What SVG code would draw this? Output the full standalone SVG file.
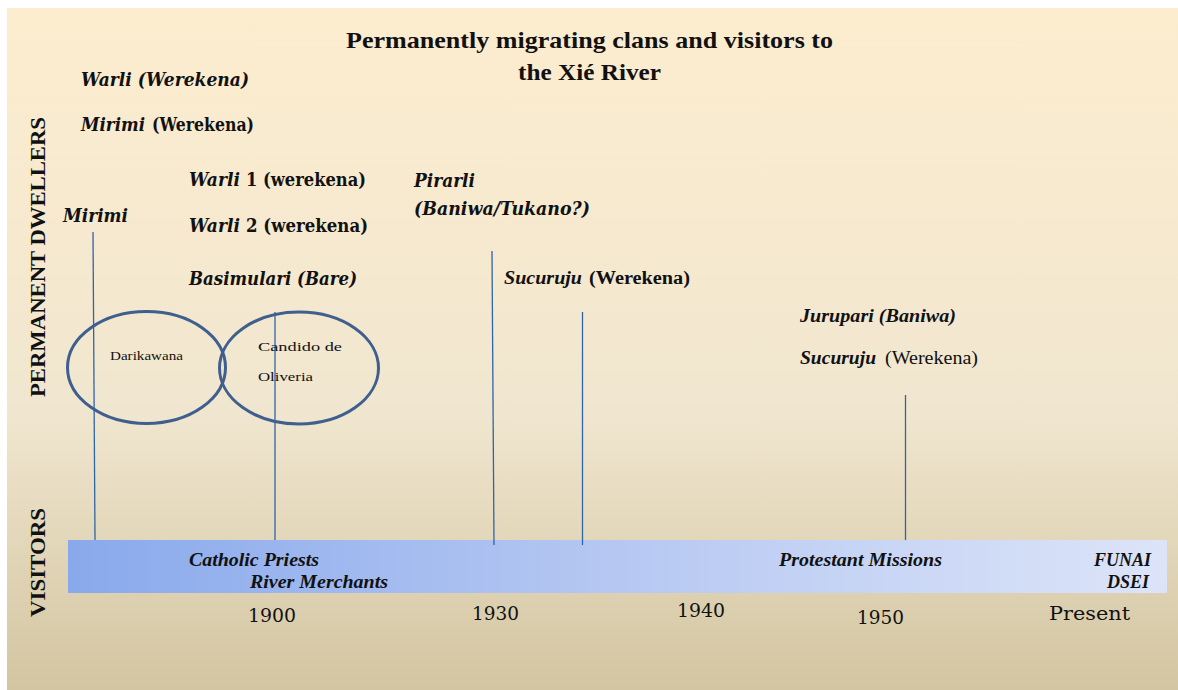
<svg xmlns="http://www.w3.org/2000/svg" width="1178" height="690" viewBox="0 0 1178 690">
<defs>
<linearGradient id="bg" x1="0" y1="0" x2="0" y2="1">
<stop offset="0" stop-color="#FDEDCF"/>
<stop offset="0.6" stop-color="#F0E6CF"/>
<stop offset="1" stop-color="#D3C5A1"/>
</linearGradient>
<linearGradient id="bar" x1="0" y1="0" x2="1" y2="0">
<stop offset="0" stop-color="#89A9EC"/>
<stop offset="0.5" stop-color="#B6C8F2"/>
<stop offset="1" stop-color="#DCE4F8"/>
</linearGradient>
<clipPath id="barclip"><rect x="68" y="540" width="1099" height="53"/></clipPath>
<style>
.c{font-family:"DejaVu Serif","Liberation Serif",serif;font-weight:bold;font-size:18px;fill:#111}
.h{font-family:"Liberation Serif",serif;font-weight:bold;font-size:23px;fill:#111}
.t{font-family:"Liberation Serif",serif;font-weight:bold;font-size:18px;fill:#111}
.bi{font-style:italic;font-weight:bold}
.b{font-style:normal;font-weight:bold}
.r{font-style:normal;font-weight:normal}
.yr{font-family:"DejaVu Serif","Liberation Serif",serif;font-size:18px;fill:#111}
.sm{font-family:"Liberation Serif",serif;font-size:13px;fill:#111}
.ax{font-family:"Liberation Serif",serif;font-weight:bold;font-size:20px;fill:#111}
.ln{stroke:#2F65A6;stroke-width:1.3;fill:none}
.el{stroke:#3F5F8F;stroke-width:3;fill:none}
</style>
</defs>
<rect x="0" y="0" width="1178" height="690" fill="#FFFFFF"/>
<rect x="7" y="8" width="1171" height="682" fill="url(#bg)"/>

<g id="title">
<text class="h" x="589.5" y="48" text-anchor="middle" textLength="487" lengthAdjust="spacingAndGlyphs">Permanently migrating clans and visitors to</text>
<text class="h" x="589.5" y="80" text-anchor="middle" textLength="143" lengthAdjust="spacingAndGlyphs">the Xié River</text>
</g>

<g id="axis-labels">
<text class="ax" transform="translate(45,397) rotate(-90)" textLength="280" lengthAdjust="spacingAndGlyphs">PERMANENT DWELLERS</text>
<text class="ax" transform="translate(45,617) rotate(-90)" textLength="109" lengthAdjust="spacingAndGlyphs">VISITORS</text>
</g>

<g id="timeline-bar">
<rect x="68" y="540" width="1099" height="53" fill="url(#bar)"/>
<g clip-path="url(#barclip)">
<text class="t bi" x="189" y="566" textLength="130" lengthAdjust="spacingAndGlyphs">Catholic Priests</text>
<text class="t bi" x="250" y="588" textLength="138" lengthAdjust="spacingAndGlyphs">River Merchants</text>
<text class="t bi" x="779" y="566" textLength="163" lengthAdjust="spacingAndGlyphs">Protestant Missions</text>
<text class="t bi" x="1151" y="566" text-anchor="end">FUNAI</text>
<text class="t bi" x="1149" y="588" text-anchor="end">DSEI</text>
</g>
</g>

<g id="connectors">
<line class="ln" x1="93" y1="232" x2="95" y2="540"/>
<line class="ln" x1="275" y1="312" x2="275" y2="540"/>
<line class="ln" x1="492" y1="251" x2="494" y2="545"/>
<line class="ln" x1="582.5" y1="312" x2="582.5" y2="545"/>
<line class="ln" x1="905.5" y1="395" x2="905.5" y2="540"/>
</g>

<g id="clans">
<g id="warli-werekena"><text class="c bi" x="81" y="86" textLength="168" lengthAdjust="spacingAndGlyphs">Warli (Werekena)</text></g>
<g id="mirimi-werekena">
<text class="c bi" x="81" y="131" textLength="64" lengthAdjust="spacingAndGlyphs">Mirimi</text>
<text class="c b" x="152" y="131" textLength="102" lengthAdjust="spacingAndGlyphs">(Werekena)</text>
</g>
<g id="warli1">
<text class="c bi" x="189" y="186" textLength="51" lengthAdjust="spacingAndGlyphs">Warli</text>
<text class="c b" x="246" y="186" textLength="120" lengthAdjust="spacingAndGlyphs">1 (werekena)</text>
</g>
<g id="mirimi"><text class="c bi" x="63" y="222" textLength="65" lengthAdjust="spacingAndGlyphs">Mirimi</text></g>
<g id="warli2">
<text class="c bi" x="189" y="232" textLength="51" lengthAdjust="spacingAndGlyphs">Warli</text>
<text class="c b" x="246" y="232" textLength="122" lengthAdjust="spacingAndGlyphs">2 (werekena)</text>
</g>
<g id="basimulari"><text class="c bi" x="189" y="285" textLength="168" lengthAdjust="spacingAndGlyphs">Basimulari (Bare)</text></g>
<g id="pirarli">
<text class="c bi" x="414" y="187" textLength="61" lengthAdjust="spacingAndGlyphs">Pirarli</text>
<text class="c bi" x="414" y="215" textLength="176" lengthAdjust="spacingAndGlyphs">(Baniwa/Tukano?)</text>
</g>
<g id="sucuruju1">
<text class="t bi" x="504" y="284" textLength="78" lengthAdjust="spacingAndGlyphs">Sucuruju</text>
<text class="t b" x="589" y="284" textLength="101" lengthAdjust="spacingAndGlyphs">(Werekena)</text>
</g>
<g id="jurupari"><text class="t bi" x="800" y="322" textLength="156" lengthAdjust="spacingAndGlyphs">Jurupari (Baniwa)</text></g>
<g id="sucuruju2">
<text class="t bi" x="800" y="364" textLength="76" lengthAdjust="spacingAndGlyphs">Sucuruju</text>
<text class="t r" x="885" y="364" textLength="93" lengthAdjust="spacingAndGlyphs">(Werekena)</text>
</g>
</g>

<g id="darikawana">
<ellipse class="el" cx="146.5" cy="367.5" rx="79" ry="56"/>
<text class="sm" x="110" y="360" textLength="73" lengthAdjust="spacingAndGlyphs">Darikawana</text>
</g>
<g id="candido">
<ellipse class="el" cx="299" cy="368" rx="79.5" ry="56"/>
<text class="sm" x="258" y="351" font-size="14" textLength="84" lengthAdjust="spacingAndGlyphs">Candido  de</text>
<text class="sm" x="258" y="381" font-size="14" textLength="55" lengthAdjust="spacingAndGlyphs">Oliveria</text>
</g>

<g id="years">
<text class="yr" x="248" y="622" textLength="48" lengthAdjust="spacingAndGlyphs">1900</text>
<text class="yr" x="472" y="620" textLength="47" lengthAdjust="spacingAndGlyphs">1930</text>
<text class="yr" x="677" y="617" textLength="48" lengthAdjust="spacingAndGlyphs">1940</text>
<text class="yr" x="857" y="624" textLength="47" lengthAdjust="spacingAndGlyphs">1950</text>
<text class="yr" x="1049" y="620" font-size="22" textLength="81" lengthAdjust="spacingAndGlyphs">Present</text>
</g>
</svg>
